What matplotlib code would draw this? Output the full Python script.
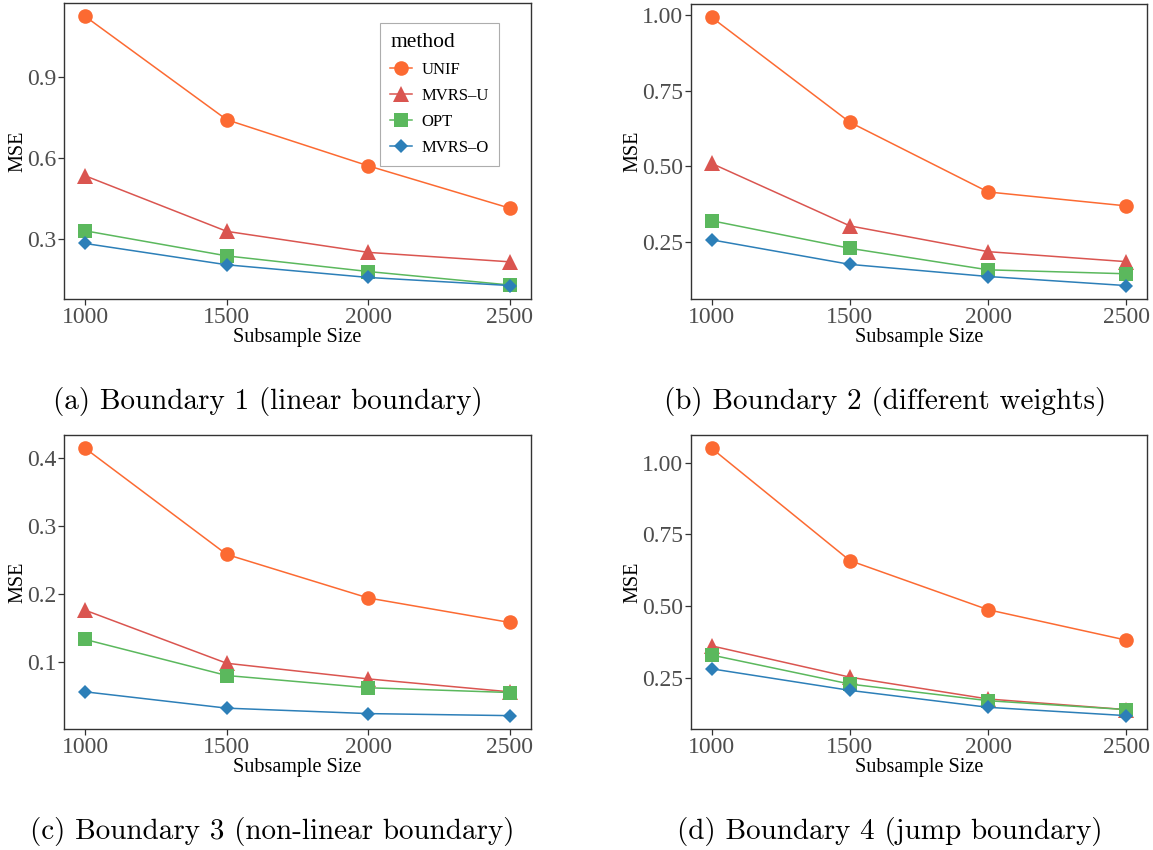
import matplotlib
matplotlib.use('Agg')
import matplotlib.pyplot as plt
from matplotlib.ticker import FormatStrFormatter

sizes = [1000, 1500, 2000, 2500]
methods = ['UNIF', 'MVRS–U', 'OPT', 'MVRS–O']
colors = ['#FC6A32', '#DA5550', '#5BB85D', '#2C7FB8']
markers = ['o', '^', 's', 'D']
msizes = [10.5, 11, 9.5, 7]

# MSE per boundary, one list per method (UNIF, MVRS-U, OPT, MVRS-O)
b1_unif = [1.126, 0.743, 0.572, 0.415]
b1_mvrsu = [0.535, 0.329, 0.251, 0.216]
b1_opt = [0.331, 0.238, 0.180, 0.130]
b1_mvrso = [0.284, 0.205, 0.158, 0.128]

b2_unif = [0.992, 0.646, 0.416, 0.370]
b2_mvrsu = [0.510, 0.304, 0.219, 0.186]
b2_opt = [0.321, 0.230, 0.159, 0.146]
b2_mvrso = [0.258, 0.177, 0.137, 0.107]

b3_unif = [0.414, 0.258, 0.194, 0.158]
b3_mvrsu = [0.176, 0.098, 0.075, 0.056]
b3_opt = [0.133, 0.080, 0.062, 0.055]
b3_mvrso = [0.056, 0.032, 0.024, 0.021]

b4_unif = [1.050, 0.659, 0.488, 0.382]
b4_mvrsu = [0.362, 0.253, 0.177, 0.140]
b4_opt = [0.330, 0.229, 0.171, 0.140]
b4_mvrso = [0.282, 0.207, 0.148, 0.119]

yticks_1 = [0.3, 0.6, 0.9]
yticks_2 = [0.25, 0.50, 0.75, 1.00]
yticks_3 = [0.1, 0.2, 0.3, 0.4]
yticks_4 = [0.25, 0.50, 0.75, 1.00]

captions = ['(a) Boundary 1 (linear boundary)',
            '(b) Boundary 2 (different weights)',
            '(c) Boundary 3 (non-linear boundary)',
            '(d) Boundary 4 (jump boundary)']

W, H = 1153, 850
fig = plt.figure(figsize=(W / 100, H / 100), dpi=100)

serif = 'Liberation Serif'

def box(l, t, r, b):
    return [l / W, 1 - b / H, (r - l) / W, (b - t) / H]

panels = [
    (box(64, 3, 531, 299), [b1_unif, b1_mvrsu, b1_opt, b1_mvrso], yticks_1, '%.1f'),
    (box(691, 4, 1147, 299), [b2_unif, b2_mvrsu, b2_opt, b2_mvrso], yticks_2, '%.2f'),
    (box(64, 435, 531, 729), [b3_unif, b3_mvrsu, b3_opt, b3_mvrso], yticks_3, '%.1f'),
    (box(691, 435, 1147, 729), [b4_unif, b4_mvrsu, b4_opt, b4_mvrso], yticks_4, '%.2f'),
]

axes = []
for pos, series, yt, fmt in panels:
    ax = fig.add_axes(pos)
    for vals, name, c, m, ms in zip(series, methods, colors, markers, msizes):
        ax.plot(sizes, vals, color=c, marker=m, markersize=ms, lw=1.1,
                markeredgewidth=0, label=name)
    ax.set_xticks(sizes)
    ax.set_yticks(yt)
    ax.yaxis.set_major_formatter(FormatStrFormatter(fmt))
    ax.margins(0.05)
    for s in ax.spines.values():
        s.set_color('#333333')
        s.set_linewidth(1.0)
    ax.tick_params(length=4, width=0.9, color='#333333', labelcolor='#4D4D4D',
                   labelsize=17, pad=1.5)
    for lab in ax.get_xticklabels() + ax.get_yticklabels():
        lab.set_family(serif)
    ax.set_xlabel('Subsample Size', family=serif, fontsize=14.5, labelpad=0)
    ax.set_ylabel('MSE', family=serif, fontsize=14.5, labelpad=0)
    axes.append(ax)

leg = axes[0].legend(loc='upper left', bbox_to_anchor=(0.677, 0.932),
                     borderaxespad=0, title='method',
                     prop={'family': serif, 'size': 12},
                     frameon=True, fancybox=False, handlelength=1.3,
                     handletextpad=0.6, borderpad=0.6, labelspacing=0.6,
                     alignment='left')
leg.get_title().set_family(serif)
leg.get_title().set_fontsize(15.5)
leg.get_frame().set_edgecolor('#999999')
leg.get_frame().set_linewidth(0.8)

cap_pos = [(268, 402), (885, 402), (272, 832), (890, 832)]
for (x, y), txt in zip(cap_pos, captions):
    fig.text(x / W, 1 - y / H, txt, family='cmr10', fontsize=21,
             ha='center', va='center')

fig.savefig('out.png', dpi=100)
